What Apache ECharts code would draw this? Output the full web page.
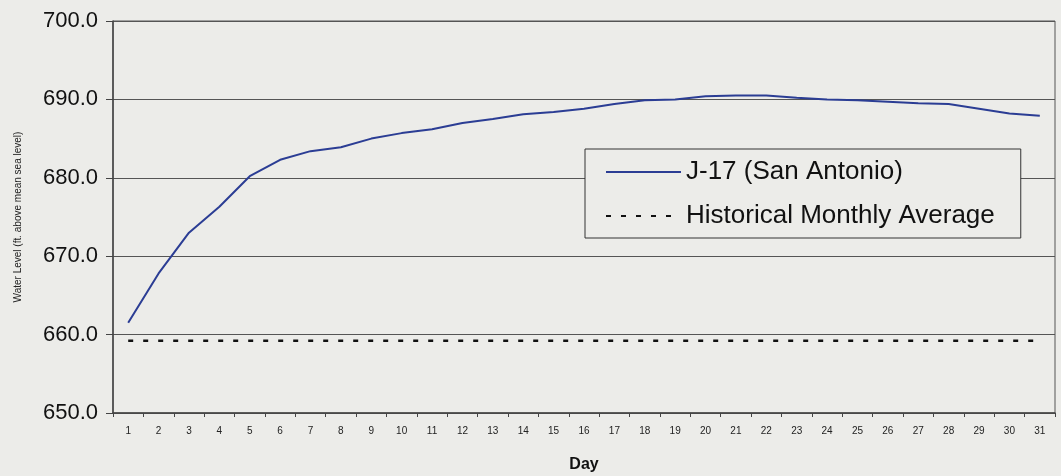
<!DOCTYPE html>
<html>
<head>
<meta charset="utf-8">
<script src="https://cdn.jsdelivr.net/npm/echarts@6/dist/echarts.min.js"></script>
<style>
html,body{margin:0;padding:0;background:#ecece9;}
#chart{width:1061px;height:476px;}
</style>
</head>
<body>
<div id="chart"></div>
<script>
const days = ['1','2','3','4','5','6','7','8','9','10','11','12','13','14','15','16','17','18','19','20','21','22','23','24','25','26','27','28','29','30','31'];
const j17 = [661.5,667.8,673.0,676.3,680.2,682.3,683.4,683.9,685.0,685.7,686.2,687.0,687.5,688.1,688.4,688.8,689.4,689.9,690.0,690.4,690.5,690.5,690.2,690.0,689.9,689.7,689.5,689.4,688.8,688.2,687.9];
const historical = [659.2,659.2,659.2,659.2,659.2,659.2,659.2,659.2,659.2,659.2,659.2,659.2,659.2,659.2,659.2,659.2,659.2,659.2,659.2,659.2,659.2,659.2,659.2,659.2,659.2,659.2,659.2,659.2,659.2,659.2,659.2];
const seriesNames = ['J-17 (San Antonio)', 'Historical Monthly Average'];

const chart = echarts.init(document.getElementById('chart'));
const font = 'Arial, "Liberation Sans", Helvetica, sans-serif';
chart.setOption({
  backgroundColor: '#ecece9',
  animation: false,
  textStyle: {fontFamily: font},
  grid: {left: 113, right: 6, top: 21, bottom: 63, containLabel: false, outerBoundsMode: 'none', show: true, borderColor: '#555', borderWidth: 1, backgroundColor: 'transparent'},
  legend: {
    orient: 'vertical',
    left: 585, top: 149,
    padding: [10, 26, 9, 20],
    itemGap: 18,
    itemWidth: 75, itemHeight: 14,
    backgroundColor: '#ecece9',
    borderColor: '#333', borderWidth: 1,
    itemStyle: {opacity: 0},
    textStyle: {fontSize: 26, color: '#111', fontFamily: font},
    data: seriesNames
  },
  xAxis: {
    type: 'category',
    data: days,
    boundaryGap: true,
    name: 'Day',
    nameLocation: 'middle',
    nameGap: 44,
    nameTextStyle: {fontSize: 16, fontWeight: 'bold', color: '#111'},
    axisLine: {lineStyle: {color: '#444', width: 1.5}},
    axisTick: {show: true, length: 4, lineStyle: {color: '#444'}},
    axisLabel: {fontSize: 10, color: '#222', margin: 13, interval: 0}
  },
  yAxis: {
    type: 'value',
    min: 650, max: 700, interval: 10,
    name: 'Water Level (ft. above mean sea level)',
    nameLocation: 'middle',
    nameGap: 90,
    nameTextStyle: {fontSize: 10, color: '#222'},
    axisLine: {show: true, lineStyle: {color: '#444', width: 1.5}},
    axisTick: {show: true, length: 7, lineStyle: {color: '#444'}},
    axisLabel: {fontSize: 22, color: '#111', margin: 15, formatter: v => v.toFixed(1)},
    splitLine: {lineStyle: {color: '#555', width: 1}}
  },
  series: [
    {
      name: seriesNames[0], type: 'line', data: j17,
      symbol: 'none', smooth: false,
      lineStyle: {color: '#2b3d94', width: 2}, itemStyle: {color: '#2b3d94'}
    },
    {
      name: seriesNames[1], type: 'line', data: historical,
      symbol: 'none',
      lineStyle: {color: '#111', width: 2.5, type: [5, 10]}, itemStyle: {color: '#111'}
    }
  ]
});
</script>
</body>
</html>
